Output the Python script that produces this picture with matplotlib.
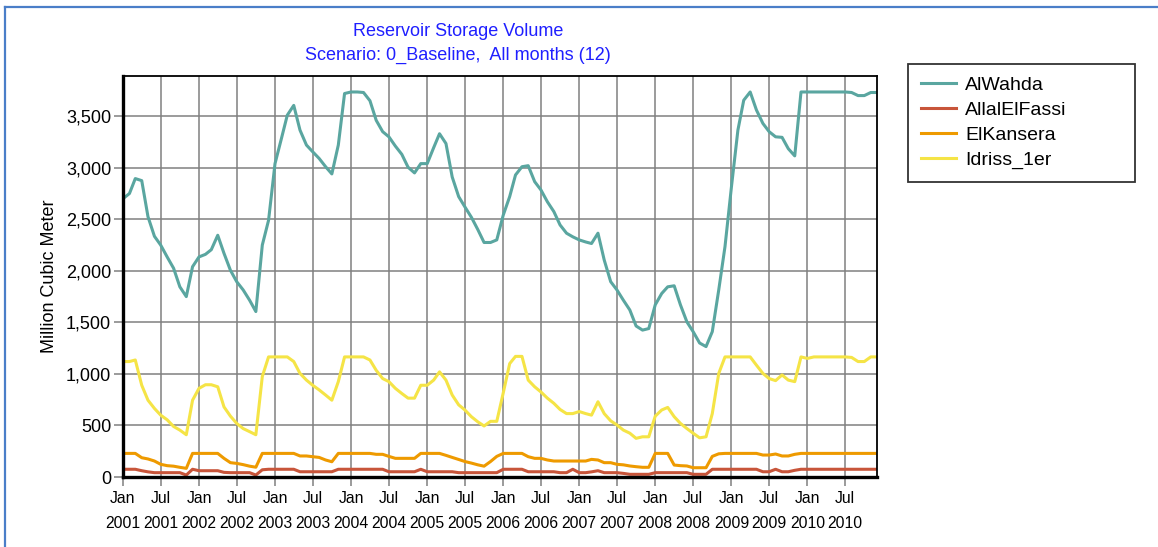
import numpy as np
import pandas as pd
import matplotlib
matplotlib.use("Agg")
import matplotlib.pyplot as plt
from matplotlib.lines import Line2D
from matplotlib.ticker import FuncFormatter

# monthly values, Jan 2001 .. Dec 2010 (million m3)
months = pd.date_range("2001-01-01", periods=120, freq="MS")

alwahda = [
    2700, 2750, 2895, 2875, 2525, 2335, 2250, 2135, 2025, 1845, 1750, 2040,
    2135, 2160, 2205, 2345, 2170, 2005, 1895, 1815, 1715, 1605, 2250, 2490,
    3040, 3285, 3510, 3605, 3365, 3220, 3155, 3090, 3010, 2940, 3220, 3720,
    3735, 3735, 3730, 3650, 3460, 3350, 3300, 3210, 3130, 3005, 2950, 3040,
    3040, 3195, 3330, 3235, 2910, 2720, 2620, 2520, 2400, 2275, 2275, 2300,
    2540, 2720, 2930, 3010, 3020, 2865, 2785, 2670, 2575, 2445, 2365, 2330,
    2300, 2280, 2265, 2365, 2105, 1895, 1815, 1715, 1620, 1465, 1425, 1440,
    1670, 1780, 1845, 1855, 1670, 1505, 1410, 1300, 1265, 1410, 1815, 2235,
    2815, 3365, 3655, 3735, 3560, 3430, 3350, 3300, 3295, 3185, 3115, 3735,
    3735, 3735, 3735, 3735, 3735, 3735, 3735, 3730, 3700, 3700, 3730, 3730,
]

allal_el_fassi = [
    75, 75, 75, 61, 50, 42, 42, 42, 42, 42, 19, 75,
    61, 61, 61, 61, 45, 42, 42, 42, 42, 19, 70, 75,
    75, 75, 75, 75, 51, 51, 51, 51, 51, 51, 75, 75,
    75, 75, 75, 75, 75, 75, 51, 51, 51, 51, 51, 75,
    51, 51, 51, 51, 51, 42, 42, 42, 42, 42, 42, 42,
    75, 75, 75, 75, 51, 51, 51, 51, 51, 42, 42, 75,
    42, 42, 50, 61, 42, 42, 42, 35, 26, 26, 26, 26,
    42, 42, 42, 42, 42, 42, 26, 26, 26, 75, 75, 75,
    75, 75, 75, 75, 75, 51, 51, 75, 51, 51, 65, 75,
    75, 75, 75, 75, 75, 75, 75, 75, 75, 75, 75, 75,
]

el_kansera = [
    229, 229, 229, 187, 175, 155, 123, 110, 105, 94, 84, 229,
    229, 229, 229, 229, 181, 139, 132, 120, 105, 95, 229, 229,
    229, 229, 229, 229, 204, 204, 197, 190, 165, 148, 229, 229,
    229, 229, 229, 229, 220, 220, 200, 181, 181, 181, 181, 229,
    229, 229, 229, 210, 190, 170, 150, 135, 118, 105, 150, 200,
    229, 229, 229, 229, 197, 181, 181, 165, 155, 155, 155, 155,
    155, 155, 171, 165, 139, 139, 123, 118, 107, 100, 94, 94,
    229, 229, 229, 116, 110, 107, 90, 90, 90, 200, 225, 229,
    229, 229, 229, 229, 229, 213, 213, 223, 204, 204, 220, 229,
    229, 229, 229, 229, 229, 229, 229, 229, 229, 229, 229, 229,
]

idriss_1er = [
    1120, 1120, 1135, 890, 745, 665, 600, 555, 490, 455, 410, 745,
    860, 895, 895, 875, 680, 590, 520, 470, 440, 410, 975, 1165,
    1165, 1165, 1165, 1120, 1005, 940, 890, 845, 795, 745, 925, 1165,
    1165, 1165, 1165, 1135, 1035, 955, 925, 860, 810, 765, 765, 890,
    890, 940, 1020, 940, 795, 700, 650, 585, 535, 495, 540, 540,
    815, 1100, 1170, 1170, 940, 875, 825, 765, 715, 655, 615, 615,
    635, 615, 600, 730, 615, 545, 505, 455, 425, 375, 390, 390,
    590, 650, 675, 585, 520, 470, 425, 380, 390, 615, 1005, 1165,
    1165, 1165, 1165, 1165, 1085, 1005, 955, 935, 990, 940, 925, 1165,
    1150, 1165, 1165, 1165, 1165, 1165, 1165, 1160, 1120, 1120, 1165, 1165,
]

names = ["AlWahda", "AllalElFassi", "ElKansera", "Idriss_1er"]
colors = ["#5aa6a0", "#c8553a", "#ee9a00", "#f5e446"]

plt.rcParams["font.family"] = ["Liberation Sans", "DejaVu Sans"]

W, H = 1158, 547
fig = plt.figure(figsize=(W / 100, H / 100), dpi=100)
ax = fig.add_axes([123 / W, 1 - 477 / H, (877 - 123) / W, (477 - 76) / H])

for name, vals, c in zip(names, [alwahda, allal_el_fassi, el_kansera, idriss_1er], colors):
    ax.plot(months, vals, color=c, lw=2.2, label=name, solid_joinstyle="round")

ax.set_xlim(months[0], months[-1])
ax.set_ylim(0, 3890)

xt = months[::6]
ax.set_xticks(xt)
ax.set_xticklabels([f"{d:%b}\n{d:%Y}" for d in xt], fontsize=11.3, linespacing=1.85)
ax.set_yticks(np.arange(0, 4000, 500))
ax.yaxis.set_major_formatter(FuncFormatter(lambda v, p: f"{int(v):,}"))
ax.tick_params(axis="y", labelsize=13, pad=2)
ax.tick_params(axis="x", pad=3.5)

ax.grid(True, color="#808080", lw=1.1)
ax.set_axisbelow(True)
ax.tick_params(colors="#808080", length=6.5, width=1.1, labelcolor="black")

for s in ["left", "bottom"]:
    ax.spines[s].set_linewidth(2.4)
for s in ["top", "right"]:
    ax.spines[s].set_linewidth(1.3)

ax.set_ylabel("Million Cubic Meter", fontsize=13, labelpad=6)

blue = "#1f1fff"
fig.text(458 / W, 1 - 31 / H, "Reservoir Storage Volume", ha="center", va="center",
         color=blue, fontsize=13)
fig.text(458 / W, 1 - 55 / H, "Scenario: 0_Baseline,  All months (12)", ha="center",
         va="center", color=blue, fontsize=13)

leg = ax.legend(loc="upper left",
                bbox_to_anchor=(908 / W, 1 - 177 / H, (1135 - 908) / W, (177 - 64) / H),
                bbox_transform=fig.transFigure, mode="expand", borderaxespad=0,
                fancybox=False, edgecolor="black", fontsize=14, handlelength=1.8,
                handletextpad=0.5, labelspacing=0.38, borderpad=0.65)
leg.get_frame().set_linewidth(1.3)

# blue outer frame of the original window
frame_c = "#4a7ec8"
fig.add_artist(Line2D([5 / W, 5 / W], [0, 1 - 7 / H], transform=fig.transFigure,
                      color=frame_c, lw=1.6))
fig.add_artist(Line2D([5 / W, 1], [1 - 7 / H, 1 - 7 / H], transform=fig.transFigure,
                      color=frame_c, lw=1.6))

fig.savefig("out.png", dpi=100)
